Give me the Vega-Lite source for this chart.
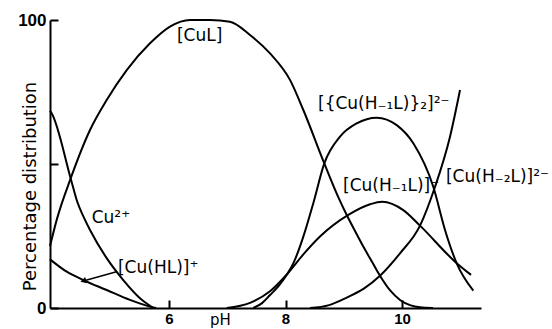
{
  "$schema": "https://vega.github.io/schema/vega-lite/v6.json",
  "autosize": "none",
  "width": 431,
  "height": 288,
  "padding": {"left": 50, "top": 20, "right": 71, "bottom": 21},
  "background": "white",
  "config": {"view": {"stroke": null}},
  "datasets": {
    "curves": [
      {"s": "Cu", "pH": 3.957, "pct": 68.5},
      {"s": "Cu", "pH": 3.986, "pct": 67.6},
      {"s": "Cu", "pH": 4.312, "pct": 45.0},
      {"s": "Cu", "pH": 4.415, "pct": 37.5},
      {"s": "Cu", "pH": 4.558, "pct": 30.6},
      {"s": "Cu", "pH": 4.644, "pct": 27.1},
      {"s": "Cu", "pH": 4.93, "pct": 17.3},
      {"s": "Cu", "pH": 5.215, "pct": 9.7},
      {"s": "Cu", "pH": 5.502, "pct": 3.4},
      {"s": "Cu", "pH": 5.73, "pct": 0},
      {"s": "CuHL", "pH": 3.957, "pct": 16.9},
      {"s": "CuHL", "pH": 4.244, "pct": 12.6},
      {"s": "CuHL", "pH": 4.529, "pct": 9.7},
      {"s": "CuHL", "pH": 4.93, "pct": 6.25},
      {"s": "CuHL", "pH": 5.33, "pct": 2.8},
      {"s": "CuHL", "pH": 5.73, "pct": 0.2},
      {"s": "CuHL", "pH": 5.78, "pct": 0},
      {"s": "CuL", "pH": 3.957, "pct": 21.5},
      {"s": "CuL", "pH": 4.072, "pct": 30.6},
      {"s": "CuL", "pH": 4.312, "pct": 45.0},
      {"s": "CuL", "pH": 4.644, "pct": 61.8},
      {"s": "CuL", "pH": 4.93, "pct": 72.2},
      {"s": "CuL", "pH": 5.274, "pct": 82.6},
      {"s": "CuL", "pH": 5.674, "pct": 91.9},
      {"s": "CuL", "pH": 6.017, "pct": 97.7},
      {"s": "CuL", "pH": 6.361, "pct": 100},
      {"s": "CuL", "pH": 6.704, "pct": 100},
      {"s": "CuL", "pH": 7.047, "pct": 99.4},
      {"s": "CuL", "pH": 7.391, "pct": 94.8},
      {"s": "CuL", "pH": 7.734, "pct": 88.4},
      {"s": "CuL", "pH": 8.077, "pct": 79.2},
      {"s": "CuL", "pH": 8.306, "pct": 68.75},
      {"s": "CuL", "pH": 8.666, "pct": 50.2},
      {"s": "CuL", "pH": 8.906, "pct": 38.5},
      {"s": "CuL", "pH": 9.051, "pct": 32.3},
      {"s": "CuL", "pH": 9.2, "pct": 26.5},
      {"s": "CuL", "pH": 9.35, "pct": 20.8},
      {"s": "CuL", "pH": 9.5, "pct": 15.5},
      {"s": "CuL", "pH": 9.622, "pct": 11.2},
      {"s": "CuL", "pH": 9.8, "pct": 6.0},
      {"s": "CuL", "pH": 9.966, "pct": 2.8},
      {"s": "CuL", "pH": 10.15, "pct": 0.9},
      {"s": "CuL", "pH": 10.309, "pct": 0.24},
      {"s": "CuL", "pH": 10.53, "pct": 0},
      {"s": "Dimer", "pH": 7.447, "pct": 0},
      {"s": "Dimer", "pH": 7.597, "pct": 1.7},
      {"s": "Dimer", "pH": 7.734, "pct": 4.5},
      {"s": "Dimer", "pH": 7.876, "pct": 7.5},
      {"s": "Dimer", "pH": 8.03, "pct": 11.8},
      {"s": "Dimer", "pH": 8.134, "pct": 15.5},
      {"s": "Dimer", "pH": 8.306, "pct": 24.8},
      {"s": "Dimer", "pH": 8.477, "pct": 36.4},
      {"s": "Dimer", "pH": 8.666, "pct": 50.2},
      {"s": "Dimer", "pH": 8.936, "pct": 59.5},
      {"s": "Dimer", "pH": 9.222, "pct": 64.1},
      {"s": "Dimer", "pH": 9.566, "pct": 66.1},
      {"s": "Dimer", "pH": 9.909, "pct": 63.5},
      {"s": "Dimer", "pH": 10.194, "pct": 57.2},
      {"s": "Dimer", "pH": 10.537, "pct": 42.1},
      {"s": "Dimer", "pH": 10.738, "pct": 27.1},
      {"s": "Dimer", "pH": 10.939, "pct": 15.5},
      {"s": "Dimer", "pH": 11.224, "pct": 6.0},
      {"s": "CuH1L", "pH": 6.991, "pct": 0},
      {"s": "CuH1L", "pH": 7.391, "pct": 1.8},
      {"s": "CuH1L", "pH": 7.734, "pct": 5.8},
      {"s": "CuH1L", "pH": 8.03, "pct": 11.8},
      {"s": "CuH1L", "pH": 8.306, "pct": 18.6},
      {"s": "CuH1L", "pH": 8.592, "pct": 24.8},
      {"s": "CuH1L", "pH": 9.078, "pct": 32.3},
      {"s": "CuH1L", "pH": 9.451, "pct": 36.0},
      {"s": "CuH1L", "pH": 9.66, "pct": 36.9},
      {"s": "CuH1L", "pH": 10.022, "pct": 34.0},
      {"s": "CuH1L", "pH": 10.309, "pct": 28.6},
      {"s": "CuH1L", "pH": 10.91, "pct": 16.1},
      {"s": "CuH1L", "pH": 11.185, "pct": 11.5},
      {"s": "CuH2L", "pH": 8.42, "pct": 0},
      {"s": "CuH2L", "pH": 8.75, "pct": 1.0},
      {"s": "CuH2L", "pH": 9.051, "pct": 3.6},
      {"s": "CuH2L", "pH": 9.35, "pct": 6.8},
      {"s": "CuH2L", "pH": 9.622, "pct": 11.2},
      {"s": "CuH2L", "pH": 9.966, "pct": 19.0},
      {"s": "CuH2L", "pH": 10.309, "pct": 28.6},
      {"s": "CuH2L", "pH": 10.567, "pct": 42.1},
      {"s": "CuH2L", "pH": 10.824, "pct": 59.5},
      {"s": "CuH2L", "pH": 10.996, "pct": 75.7}
    ],
    "arrow": [
      {"pH": 5.098, "pct": 12.6},
      {"pH": 4.528, "pct": 9.4}
    ],
    "arrowhead": [
      {"pH": 4.528, "pct": 9.4}
    ],
    "labels": [
      {"t": "[CuL]", "pH": 6.137, "pct": 94.6},
      {"t": "Cu²⁺", "pH": 4.673, "pct": 31.25},
      {"t": "[Cu(HL)]⁺", "pH": 5.124, "pct": 14.06},
      {"t": "[{Cu(H₋₁L)}₂]²⁻", "pH": 8.558, "pct": 70.8},
      {"t": "[Cu(H₋₁L)]⁻", "pH": 8.987, "pct": 42.4},
      {"t": "[Cu(H₋₂L)]²⁻", "pH": 10.755, "pct": 45.5}
    ]
  },
  "layer": [
    {
      "data": {"name": "curves"},
      "mark": {"type": "line", "color": "black", "strokeWidth": 2, "interpolate": "monotone"},
      "encoding": {
        "x": {
          "field": "pH", "type": "quantitative",
          "scale": {"domain": [3.957, 11.356], "nice": false, "zero": false},
          "axis": {
            "values": [6, 8, 10], "format": "d", "title": "pH", "grid": false,
            "tickSize": -8, "tickWidth": 2, "tickColor": "black",
            "domainColor": "black", "domainWidth": 2,
            "labelPadding": 11, "labelBaseline": "top", "labelFlush": false,
            "labelFont": "Liberation Sans", "labelFontWeight": "bold", "labelFontSize": 15, "labelColor": "black",
            "titleFont": "DejaVu Sans", "titleFontSize": 15, "titleFontWeight": "normal", "titleColor": "black",
            "titleX": 170, "titleY": 4, "titleBaseline": "top", "titleAlign": "center"
          }
        },
        "y": {
          "field": "pct", "type": "quantitative",
          "scale": {"domain": [0, 100], "nice": false},
          "axis": {
            "values": [0, 50, 100], "format": "d", "title": "Percentage distribution", "grid": false,
            "labelExpr": "datum.value == 50 ? '' : datum.label",
            "tickSize": -8, "tickWidth": 2, "tickColor": "black",
            "domainColor": "black", "domainWidth": 2,
            "labelPadding": 12, "labelBaseline": "middle", "labelFlush": false,
            "labelFont": "Liberation Sans", "labelFontWeight": "bold", "labelFontSize": 17, "labelColor": "black",
            "titleFont": "DejaVu Sans", "titleFontSize": 18, "titleFontWeight": "normal", "titleColor": "black",
            "titleX": -20, "titleY": 166, "titleBaseline": "middle", "titleAlign": "center"
          }
        },
        "detail": {"field": "s", "type": "nominal"}
      }
    },
    {
      "data": {"name": "arrow"},
      "mark": {"type": "line", "color": "black", "strokeWidth": 1.5},
      "encoding": {
        "x": {"field": "pH", "type": "quantitative"},
        "y": {"field": "pct", "type": "quantitative"}
      }
    },
    {
      "data": {"name": "arrowhead"},
      "mark": {"type": "point", "shape": "triangle-left", "filled": true, "color": "black", "opacity": 1, "size": 45, "angle": 344},
      "encoding": {
        "x": {"field": "pH", "type": "quantitative"},
        "y": {"field": "pct", "type": "quantitative"}
      }
    },
    {
      "data": {"name": "labels"},
      "mark": {"type": "text", "align": "left", "baseline": "middle", "font": "DejaVu Sans", "fontSize": 17, "color": "black"},
      "encoding": {
        "x": {"field": "pH", "type": "quantitative"},
        "y": {"field": "pct", "type": "quantitative"},
        "text": {"field": "t", "type": "nominal"}
      }
    }
  ]
}
